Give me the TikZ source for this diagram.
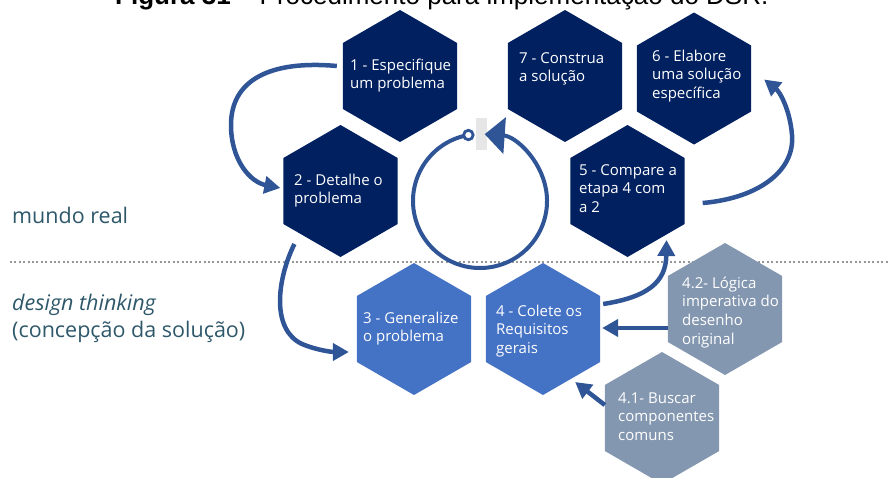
\documentclass[tikz,border=0pt]{standalone}
\usepackage{fontspec}
\setmainfont{Open Sans}
\newfontfamily\titlefont{Liberation Sans}
\usetikzlibrary{shapes.geometric,arrows.meta,calc}
\definecolor{navy}{RGB}{0,32,96}
\definecolor{midblue}{RGB}{68,114,196}
\definecolor{greyblue}{RGB}{132,151,176}
\definecolor{arrowblue}{RGB}{47,85,151}
\definecolor{labelteal}{RGB}{46,88,106}
\definecolor{dotgrey}{RGB}{150,150,150}
\definecolor{lightgrey}{RGB}{231,230,230}
\newcommand{\hexlines}[1]{\begin{tabular}[t]{@{}l@{}}#1\end{tabular}}
\begin{document}
\begin{tikzpicture}[x=1pt,y=-1pt,
  hexbox/.style={regular polygon, regular polygon sides=6, regular polygon rotate=30, minimum size=132pt, inner sep=0pt, outer sep=0pt},
  hextext/.style={anchor=base west, inner sep=0pt, text=white, font=\fontsize{15}{18.7}\selectfont},
  flow/.style={draw=arrowblue, line width=4.5pt, -{Triangle[length=16pt,width=17pt]}},
  sidelabel/.style={anchor=base west, inner sep=0pt, text=labelteal, font=\fontsize{21.5}{26}\selectfont}]
\useasboundingbox (0,0) rectangle (888,477);
\clip (0,0) rectangle (888,477);

% title (cut by the top border, as in the reference)
\node[anchor=base west, inner sep=0pt, font=\titlefont\fontsize{26}{30}\selectfont] (title) at (115,4.5) {\textbf{Figura 31} – Procedimento para implementação do DSR.};

% dotted separator
\coordinate (dl) at (10,262);
\coordinate (dr) at (888,262);
\draw[dotgrey, line width=2pt, dash pattern=on 2pt off 2.4pt] (dl) -- (dr);

% hexagons
\node[hexbox, fill=navy] (h1) at (400,76) {};
\node[hexbox, fill=navy] (h2) at (340.5,191) {};
\node[hexbox, fill=navy] (h7) at (565,76) {};
\node[hexbox, fill=navy] (h6) at (694,78.5) {};
\node[hexbox, fill=navy] (h5) at (627.5,191) {};
\node[hexbox, fill=midblue] (h3) at (414,329) {};
\node[hexbox, fill=midblue] (h4) at (543,329) {};
\node[hexbox, fill=greyblue] (h42) at (725,309) {};
\node[hexbox, fill=greyblue] (h41) at (662,418) {};

% hexagon texts
\node[hextext] (t1) at (350,70) {\hexlines{1 - Especifique\\um problema}};
\node[hextext] (t2) at (294,185) {\hexlines{2 - Detalhe o\\problema}};
\node[hextext] (t7) at (519,63) {\hexlines{7 - Construa\\a solução}};
\node[hextext] (t6) at (652,61) {\hexlines{6 - Elabore\\uma solução\\específica}};
\node[hextext] (t5) at (579,175) {\hexlines{5 - Compare a\\etapa 4 com\\a 2}};
\node[hextext] (t3) at (363,323) {\hexlines{3 - Generalize\\o problema}};
\node[hextext] (t4) at (496,316) {\hexlines{4 - Colete os\\Requisitos\\gerais}};
\node[hextext] (t42) at (682,288) {\hexlines{4.2- Lógica\\imperativa do\\desenho\\original}};
\node[hextext] (t41) at (618,403) {\hexlines{4.1- Buscar\\componentes\\comuns}};

% side labels
\node[sidelabel] (lreal) at (12,223) {mundo real};
\node[sidelabel] (ldesign) at (12,310) {\itshape design thinking};
\node[sidelabel] (lconc) at (12,337) {(concepção da solução)};

% central cycle
\coordinate (cc) at (480,201);
\node[fill=lightgrey, minimum width=11pt, minimum height=32pt, inner sep=0pt] (gbar) at (481.5,134) {};
\draw[draw=arrowblue, line width=4pt, -{Triangle[length=20pt,width=36pt]}]
  ($(cc)+(-100:67)$) arc[start angle=-100, end angle=-446, radius=67];
\node[circle, draw=arrowblue, fill=white, line width=2.8pt, minimum size=9.5pt, inner sep=0pt] (ring) at ($(cc)+(-100:67)$) {};

% connectors
\draw[flow] ($(h1.180)+(-6,-10)$) .. controls (270,60) and (231,80) .. (231,125)
  .. controls (231,160) and (250,182) .. ($(h2.180)+(-3,-3)$);
\draw[flow] ($(h2.210)+(11,20)$) .. controls (276,282) and (272,330) .. (302,344)
  .. controls (316,350) and (332,352) .. ($(h3.180)+(-8,23)$);
\draw[flow] ($(h4.0)+(3,-25)$) .. controls (648,297) and (666,282) .. ($(h5.270)+(39,-17)$);
\draw[flow] ($(h42.180)+(0,19)$) -- ($(h4.0)+(2,-1)$);
\draw[flow] ($(h41.180)+(0,-13)$) -- ($(h4.330)+(-25,20)$);
\draw[flow] ($(h5.0)+(18,12)$) .. controls (760,198) and (795,170) .. (792,135)
  .. controls (790,110) and (780,92) .. ($(h6.0)+(13,1)$);
\end{tikzpicture}
\end{document}
